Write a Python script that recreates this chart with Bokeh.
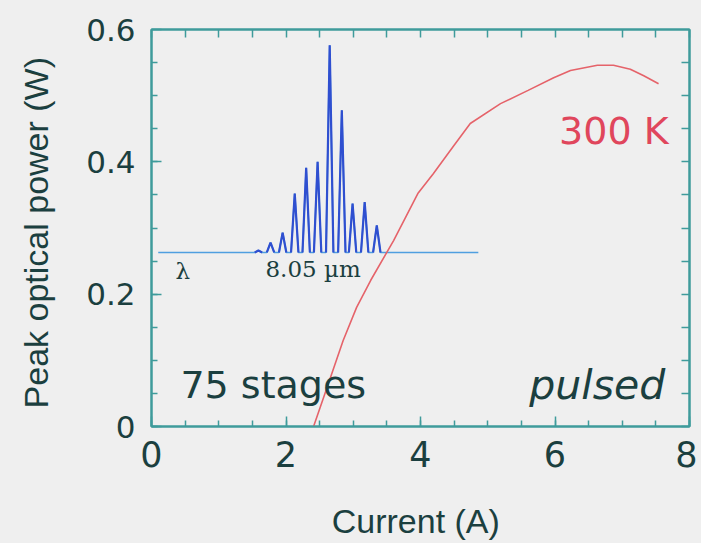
from bokeh.plotting import figure
from bokeh.models import LinearAxis, FixedTicker, Label, Range1d, NumeralTickFormatter
from bokeh.embed import file_html
from bokeh.resources import INLINE

# ---- data ----
current = [2.41, 2.60, 2.85, 3.05, 3.26, 3.60, 3.96, 4.19, 4.50, 4.74,
           5.19, 5.60, 5.98, 6.23, 6.63, 6.87, 7.12, 7.32, 7.54]
power = [0.000, 0.056, 0.130, 0.180, 0.221, 0.281, 0.352, 0.382, 0.425, 0.458,
         0.488, 0.508, 0.527, 0.538, 0.546, 0.546, 0.540, 0.530, 0.518]

# inset spectrum, drawn in the main plot's coordinates
peak_x = [1.59, 1.77, 1.95, 2.13, 2.30, 2.47, 2.65, 2.83, 2.99, 3.17, 3.35]
peak_h = [0.266, 0.278, 0.293, 0.352, 0.391, 0.400, 0.576, 0.478, 0.337, 0.339, 0.304]
spec_base = 0.263
spec_start, spec_end = 0.10, 4.86
peak_half_width = 0.055

x_major = [0, 2, 4, 6, 8]
x_minor = [0.5 * i for i in range(17)]
y_major = [0, 0.2, 0.4, 0.6]
y_minor = [0.05 * i for i in range(13)]

BG = "#efefef"
TEAL = "#3f9b9b"
TXT = "#1b3f3f"
RED = "#e5636a"

p = figure(width=697, height=543, output_backend="svg", toolbar_location=None,
           x_range=Range1d(0, 8), y_range=Range1d(0, 0.6),
           min_border_left=151, min_border_right=8, min_border_top=29, min_border_bottom=117,
           background_fill_color=BG, border_fill_color=BG,
           outline_line_color=TEAL, outline_line_width=2)
p.grid.visible = False

def style_axis(ax):
    ax.axis_line_color = TEAL
    ax.axis_line_width = 2
    ax.major_tick_line_color = TEAL
    ax.minor_tick_line_color = TEAL
    ax.major_tick_line_width = 1.5
    ax.minor_tick_line_width = 1.5
    ax.major_tick_in = 10
    ax.major_tick_out = 0
    ax.minor_tick_in = 6
    ax.minor_tick_out = 0

xa = p.xaxis[0]
ya = p.yaxis[0]
for ax, ticks, minor, size in ((xa, x_major, x_minor, "35px"), (ya, y_major, y_minor, "31px")):
    style_axis(ax)
    ax.ticker = FixedTicker(ticks=ticks, minor_ticks=minor)
    ax.major_label_text_font = "DejaVu Sans"
    ax.major_label_text_font_size = size
    ax.major_label_text_color = TXT
xa.major_label_standoff = 14
ya.major_label_standoff = 16
ya.formatter = NumeralTickFormatter(format="0.[0]")

xa.axis_label = "Current  (A)"
ya.axis_label = "Peak optical power  (W)"
for ax in (xa, ya):
    ax.axis_label_text_font = "Liberation Sans"
    ax.axis_label_text_font_style = "normal"
    ax.axis_label_text_color = TXT
xa.axis_label_text_font_size = "34px"
ya.axis_label_text_font_size = "34px"
xa.axis_label_standoff = 32
ya.axis_label_standoff = 28

# mirrored ticks on the top and right sides (no labels: ticks only as minor ticks)
top = LinearAxis(ticker=FixedTicker(ticks=[], minor_ticks=x_minor))
right = LinearAxis(ticker=FixedTicker(ticks=[], minor_ticks=y_minor))
for ax in (top, right):
    style_axis(ax)
    ax.minor_tick_in = 8
    ax.major_label_standoff = 0
p.add_layout(top, "above")
p.add_layout(right, "right")

# spectrum: baseline + peaks
sx = [spec_start]
sy = [spec_base]
for px, ph in zip(peak_x, peak_h):
    sx += [px - peak_half_width, px, px + peak_half_width]
    sy += [spec_base, ph, spec_base]
sx.append(spec_end)
sy.append(spec_base)
p.line(sx, sy, line_color="#4f9fe0", line_width=1.6)
p.multi_line([[px - peak_half_width, px, px + peak_half_width] for px in peak_x],
             [[spec_base, ph, spec_base] for ph in peak_h],
             line_color="#2f4fd0", line_width=2.2)

# L-I curve
p.line(current, power, line_color=RED, line_width=1.6)

# annotations
p.add_layout(Label(x=0.357, y=0.235, text="λ", text_font="DejaVu Serif",
                   text_font_size="23px", text_color=TXT, text_baseline="alphabetic"))
p.add_layout(Label(x=1.695, y=0.238, text="8.05 µm", text_font="DejaVu Serif",
                   text_font_size="23px", text_color=TXT, text_baseline="alphabetic"))
p.add_layout(Label(x=0.43, y=0.062, text="75 stages", text_font="DejaVu Sans",
                   text_font_size="38px", text_color=TXT, text_baseline="alphabetic"))
p.add_layout(Label(x=7.64, y=0.062, text="pulsed", text_font="DejaVu Sans",
                   text_font_style="italic", text_font_size="41px", text_color=TXT,
                   text_align="right", text_baseline="alphabetic"))
p.add_layout(Label(x=7.69, y=0.447, text="300 K", text_font="DejaVu Sans",
                   text_font_size="38px", text_color="#e0465c",
                   text_align="right", text_baseline="alphabetic"))

html = file_html(p, INLINE)
html = html.replace("<head>", "<head><style>body{background:#efefef}</style>", 1)
open("out.html", "w").write(html)
